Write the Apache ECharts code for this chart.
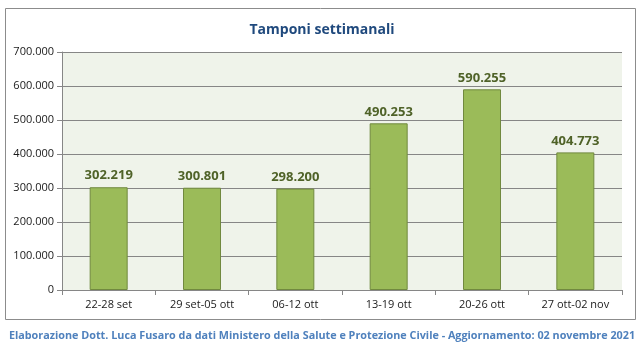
<!DOCTYPE html>
<html>
<head>
<meta charset="utf-8">
<script src="https://cdn.jsdelivr.net/npm/echarts@6/dist/echarts.min.js"></script>
<style>
  html, body { margin: 0; padding: 0; background: #fff; }
  #chart { width: 644px; height: 354px; }
</style>
</head>
<body>
<div id="chart"></div>
<script>
// settimane
var categories = ['22-28 set', '29 set-05 ott', '06-12 ott', '13-19 ott', '20-26 ott', '27 ott-02 nov']
// tamponi settimanali
var tamponi = [302219, 300801, 298200, 490253, 590255, 404773]

var fmt = function (v) {
  return String(v).replace(/\B(?=(\d{3})+(?!\d))/g, '.')
}

var myChart = echarts.init(document.getElementById('chart'))
var option = {
  backgroundColor: '#ffffff',
  animation: false,
  title: {
    text: 'Tamponi settimanali',
    left: 'center',
    top: 18,
    textStyle: {
      color: '#1f497d',
      fontSize: 14,
      fontWeight: 'bold',
      fontFamily: 'Open Sans'
    }
  },
  graphic: [
    {
      type: 'rect',
      shape: { x: 5.5, y: 8.5, width: 630, height: 311 },
      style: { fill: 'none', stroke: '#8c8c8c', lineWidth: 1 },
      z: -1
    },
    {
      type: 'text',
      left: 'center',
      top: 330,
      style: {
        text: 'Elaborazione Dott. Luca Fusaro da dati Ministero della Salute e Protezione Civile - Aggiornamento: 02 novembre 2021',
        fill: '#4f81bd',
        font: 'bold 10.8px "Open Sans"'
      }
    }
  ],
  grid: {
    left: 62,
    right: 22,
    top: 52,
    bottom: 64,
    show: true,
    backgroundColor: '#eff3ea',
    borderWidth: 0
  },
  xAxis: {
    type: 'category',
    data: categories,
    axisLine: { show: true, lineStyle: { color: '#868686' } },
    axisTick: { show: true, length: 5, lineStyle: { color: '#868686' } },
    axisLabel: {
      color: '#1a1a1a',
      fontSize: 11,
      fontFamily: 'Open Sans',
      margin: 9
    }
  },
  yAxis: {
    type: 'value',
    min: 0,
    max: 700000,
    interval: 100000,
    axisLine: { show: true, lineStyle: { color: '#868686' } },
    axisTick: { show: true, length: 5, lineStyle: { color: '#868686' } },
    splitLine: { show: true, lineStyle: { color: '#868686', width: 1 } },
    axisLabel: {
      color: '#1a1a1a',
      fontSize: 11,
      fontFamily: 'Open Sans',
      margin: 8,
      formatter: function (v) { return fmt(v) }
    }
  },
  series: [
    {
      name: 'Tamponi',
      type: 'bar',
      data: tamponi,
      barWidth: 38,
      itemStyle: {
        color: '#9bbb59',
        borderColor: '#71893f',
        borderWidth: 1
      },
      label: {
        show: true,
        position: 'top',
        distance: 5,
        color: '#4f6228',
        fontSize: 13,
        fontWeight: 'bold',
        fontFamily: 'Open Sans',
        formatter: function (p) { return fmt(p.value) }
      }
    }
  ]
}

option && myChart.setOption(option)
</script>
</body>
</html>
